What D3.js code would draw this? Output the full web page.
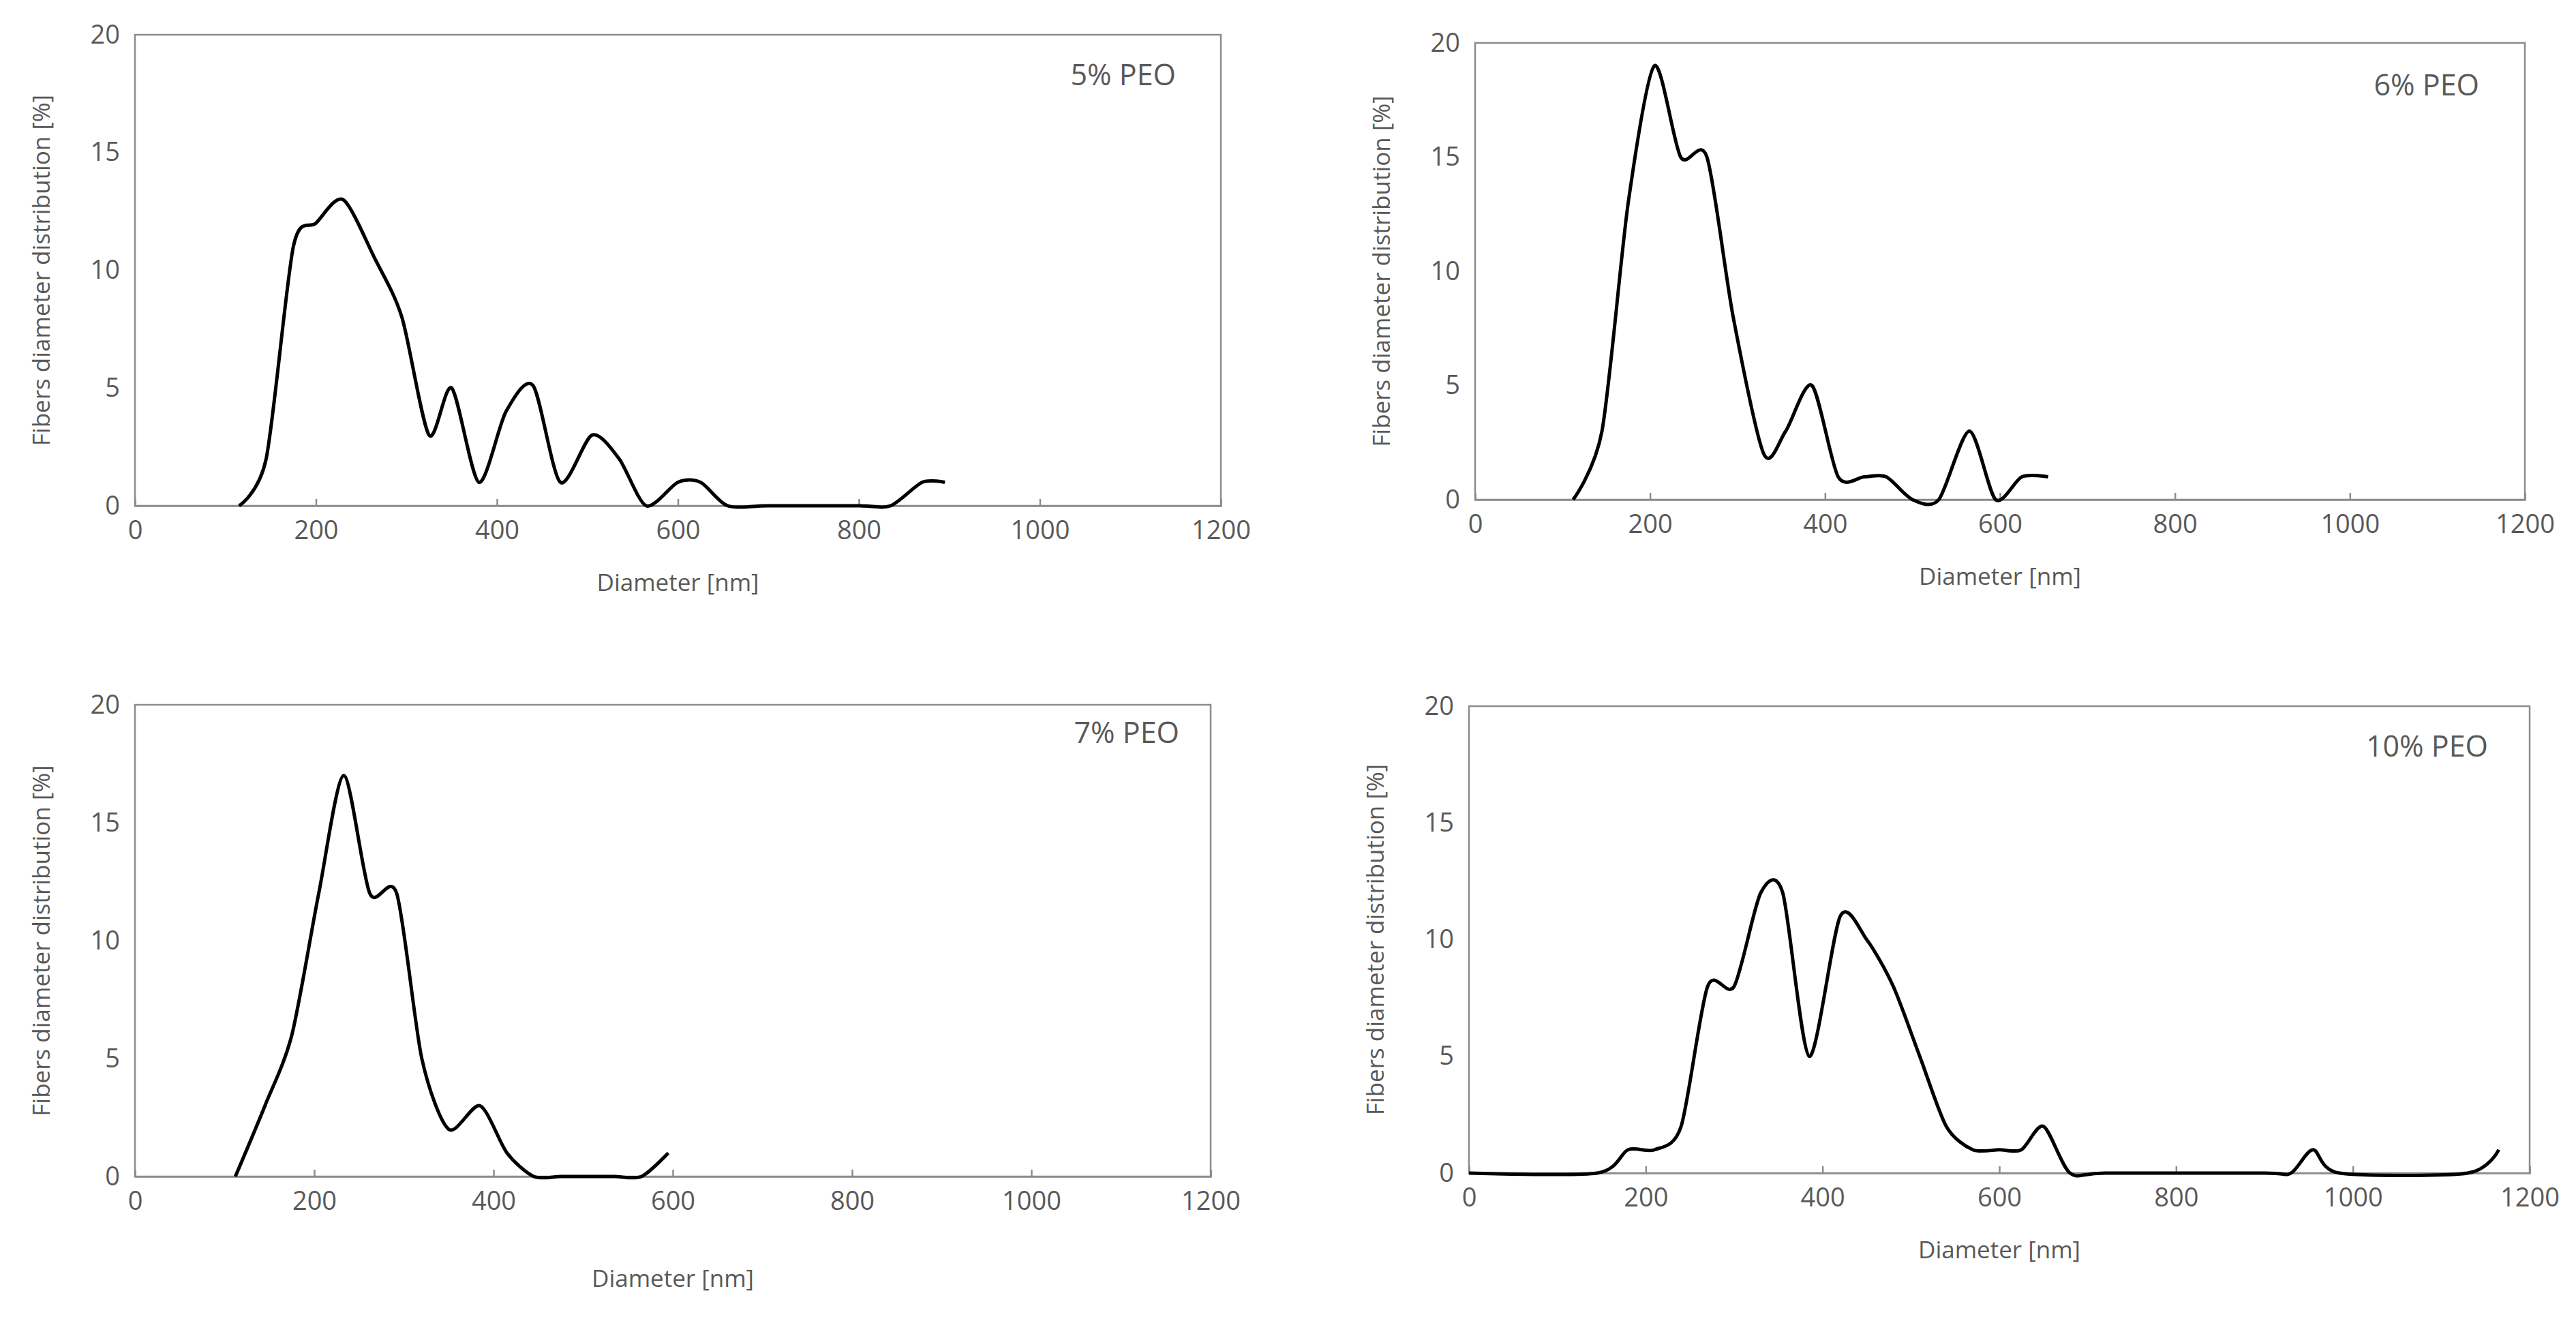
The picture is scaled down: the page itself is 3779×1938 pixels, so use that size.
<!DOCTYPE html>
<html><head><meta charset="utf-8">
<script src="https://cdn.jsdelivr.net/npm/d3@7"></script>
<style>body{margin:0;background:#fff}</style></head>
<body><svg id="c" width="3779" height="1938"></svg>
<script>
const xTicks=[0,200,400,600,800,1000,1200];
const yTicks=[0,5,10,15,20];
const labels=["5% PEO","6% PEO","7% PEO","10% PEO"];
const peo5X=[115,145,175,200,230,265,295,325,350,380,410,440,470,505,535,565,600,625,655,700,800,835,870,895];
const peo5Y=[0,2,11,12,13,10.5,8,3,5,1,4,5.1,1,3,2,0,1,1,0,0,0,0,1,1];
const peo6X=[112,145,175,205,235,265,295,330,355,385,415,445,470,500,530,565,595,625,655];
const peo6Y=[0,3,13,19,15,15,8,2,3,5,1,1,1,0,0,3,0,1,1];
const peo7X=[112,145,175,205,233,262,292,320,350,385,415,445,475,505,535,565,595];
const peo7Y=[0,3,6,12,17,12,12,5,2,3,1,0,0,0,0,0,1];
const peo10X=[0,145,180,210,240,270,300,330,355,385,420,450,480,510,540,570,600,625,650,680,720,900,930,955,985,1130,1165];
const peo10Y=[0,0,1,1,2,8,8,12,12,5,11,10,8,5,2,1,1,1,2,0,0,0,0,1,0,0,1];
const series=[[peo5X,peo5Y],[peo6X,peo6Y],[peo7X,peo7Y],[peo10X,peo10Y]];
const boxes=[{l:198,r:1791,t:51,b:742,lx:1725,ly:125},{l:2164,r:3704,t:63,b:733,lx:3637,ly:140},
{l:198,r:1776,t:1034,b:1726,lx:1730,ly:1090},{l:2155,r:3711,t:1036,b:1721,lx:3650,ly:1110}];
const svg=d3.select("#c");
const grey="#595959", font="'Open Sans', sans-serif";
boxes.forEach((B,i)=>{
  const x=d3.scaleLinear().domain([0,1200]).range([B.l,B.r]);
  const y=d3.scaleLinear().domain([0,20]).range([B.b,B.t]);
  const g=svg.append("g");
  g.append("rect").attr("x",B.l).attr("y",B.t).attr("width",B.r-B.l).attr("height",B.b-B.t)
   .attr("fill","none").attr("stroke","#8c8c8c").attr("stroke-width",2.5);
  const xa=g.append("g").attr("transform",`translate(0,${B.b})`)
    .call(d3.axisBottom(x).tickValues(xTicks).tickSize(-10).tickPadding(22).tickFormat(d3.format("d")));
  xa.select(".domain").attr("stroke","#8c8c8c").attr("stroke-width",2.5);
  xa.selectAll("line").attr("stroke","#8c8c8c").attr("stroke-width",2.5);
  xa.selectAll("text").attr("fill",grey).style("font-family",font).style("font-size","38px");
  const ya=g.append("g").attr("transform",`translate(${B.l},0)`)
    .call(d3.axisLeft(y).tickValues(yTicks).tickSize(0).tickPadding(22));
  ya.select(".domain").remove();
  ya.selectAll("text").attr("fill",grey).style("font-family",font).style("font-size","38px");
  g.append("text").attr("x",(B.l+B.r)/2).attr("y",B.b+(i==2?162:125)).attr("text-anchor","middle")
   .attr("fill",grey).style("font-family",font).style("font-size","35px").text("Diameter [nm]");
  g.append("text").attr("transform",`translate(${B.l-125},${(B.t+B.b)/2}) rotate(-90)`).attr("text-anchor","middle")
   .attr("fill",grey).style("font-family",font).style("font-size","35px").text("Fibers diameter distribution [%]");
  g.append("text").attr("x",B.lx).attr("y",B.ly).attr("text-anchor","end")
   .attr("fill",grey).style("font-family",font).style("font-size","43px").text(labels[i]);
  const [xs,ys]=series[i];
  const pts=xs.map((v,k)=>[v,ys[k]]);
  g.append("path").datum(pts).attr("fill","none").attr("stroke","#000").attr("stroke-width",5)
   .attr("d",d3.line().x(d=>x(d[0])).y(d=>y(d[1])).curve(d3.curveCardinal.tension(0.2)));
});
</script></body></html>
